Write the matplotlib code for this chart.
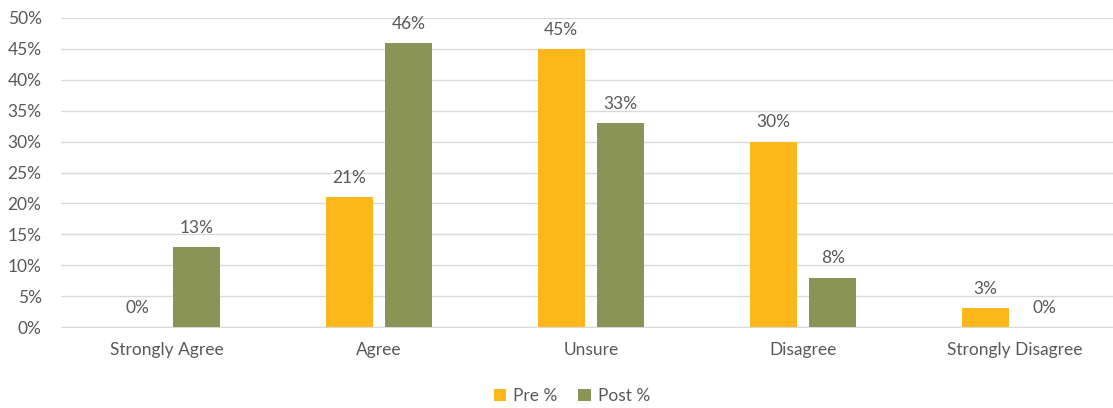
import matplotlib.pyplot as plt
import numpy as np
from matplotlib.ticker import PercentFormatter

categories = ['Strongly Agree', 'Agree', 'Unsure', 'Disagree', 'Strongly Disagree']
pre = [0, 21, 45, 30, 3]
post = [13, 46, 33, 8, 0]
series_names = ['Pre %', 'Post %']

plt.rcParams['font.family'] = ['Lato', 'DejaVu Sans']
txt = '#595959'
orange = '#FDB71A'
green = '#8A9456'
fs = 12.5

fig = plt.figure(figsize=(11.13, 4.08), dpi=100)
# plot area runs a little past the right edge, like the original
ax = fig.add_axes([61 / 1113, 81 / 408, 1060 / 1113, 309 / 408])

x = np.arange(len(categories))
w = 0.222
off = 0.14
b1 = ax.bar(x - off, pre, w, color=orange, label=series_names[0], zorder=3)
b2 = ax.bar(x + off, post, w, color=green, label=series_names[1], zorder=3)

for bars, vals in ((b1, pre), (b2, post)):
    for rect, v in zip(bars, vals):
        ax.annotate('{}%'.format(v), (rect.get_x() + rect.get_width() / 2, v),
                    xytext=(0, 8), textcoords='offset points',
                    ha='center', va='bottom', fontsize=fs, color=txt)

ax.set_xlim(-0.5, len(categories) - 0.5)
ax.set_ylim(0, 50)
ax.set_yticks(range(0, 51, 5))
ax.yaxis.set_major_formatter(PercentFormatter(decimals=0))
ax.set_xticks(x)
ax.set_xticklabels(categories)
ax.tick_params(length=0, labelsize=fs, colors=txt)
ax.tick_params(axis='x', pad=11)
ax.tick_params(axis='y', pad=14)
ax.grid(axis='y', color='#D9D9D9', lw=1, zorder=0)
for s in ['top', 'right', 'left']:
    ax.spines[s].set_visible(False)
ax.spines['bottom'].set_color('#D9D9D9')

fig.legend(loc='center', bbox_to_anchor=(572 / 1113, 12 / 408), ncol=2, frameon=False,
           fontsize=fs, labelcolor=txt, handlelength=0.7, handleheight=0.7,
           columnspacing=1.2, handletextpad=0.4)

fig.savefig('out.png', dpi=100)
